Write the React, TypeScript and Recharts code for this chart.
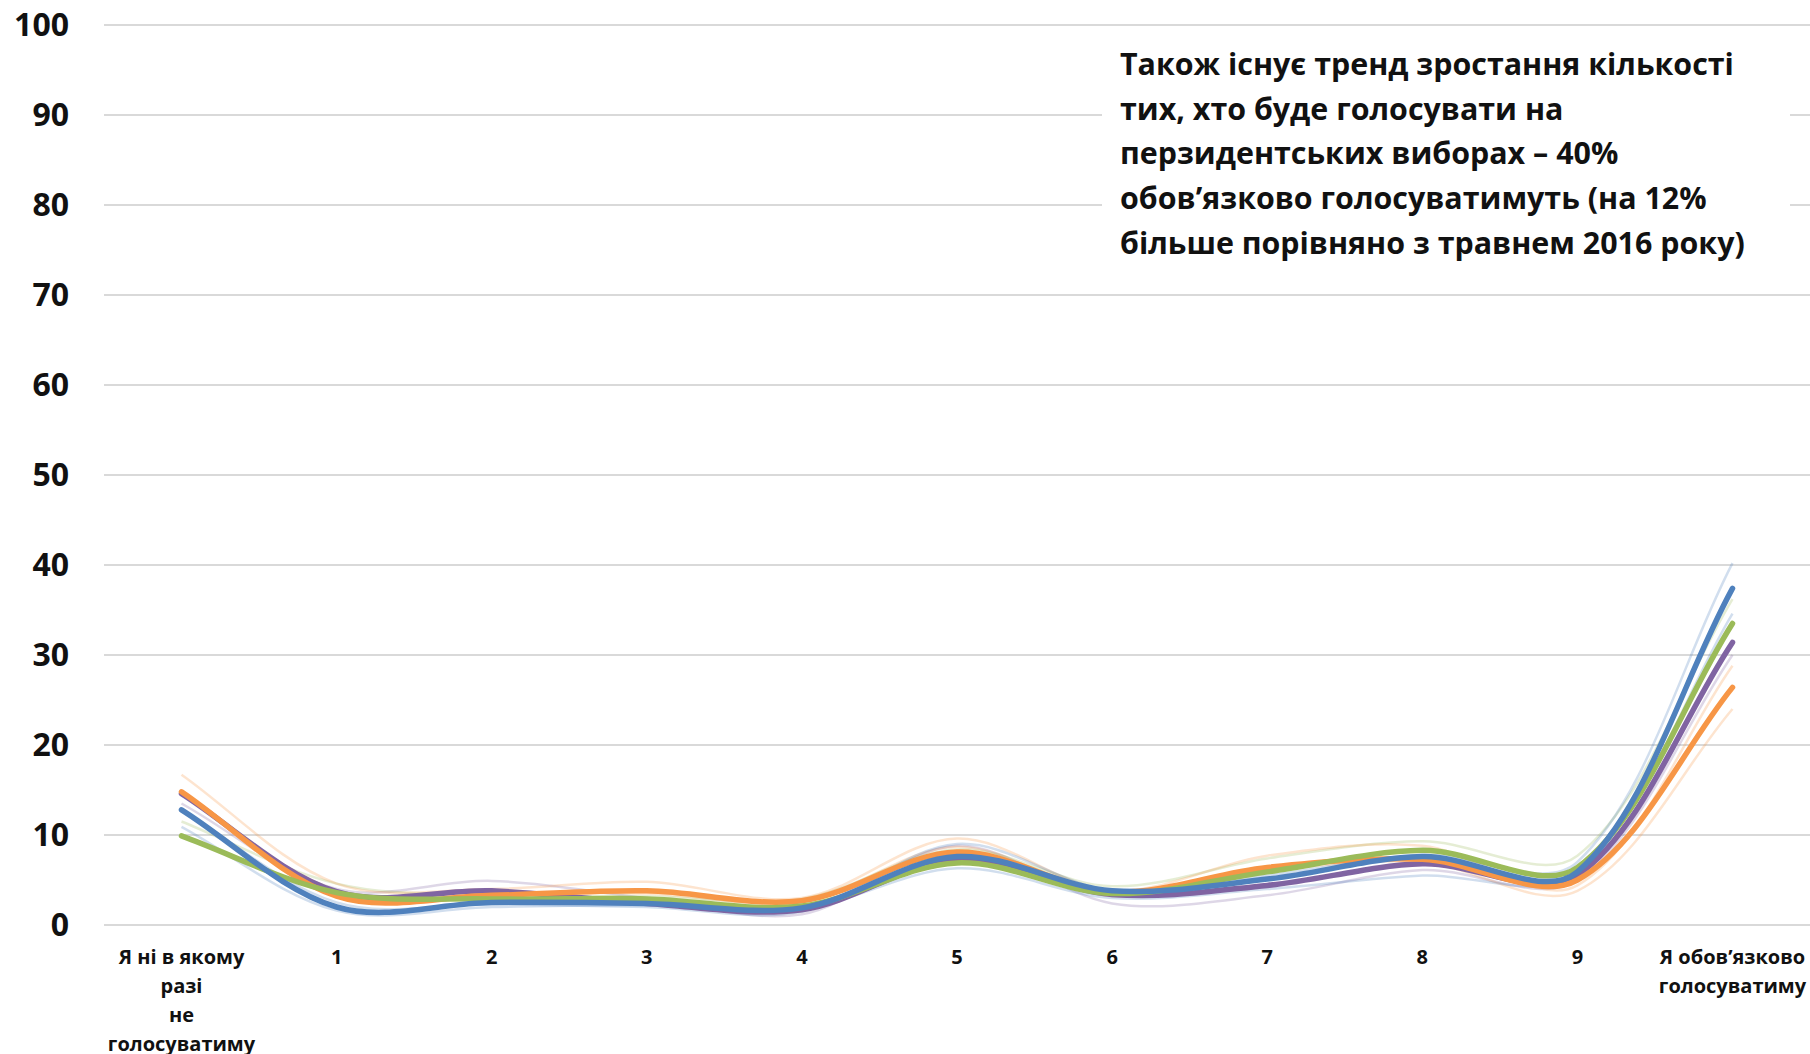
import { CartesianGrid, Line, LineChart, XAxis, YAxis } from "recharts";

// categories of the scale (0 .. 10)
const categories = [
  "Я ні в якому\nразі\nне\nголосуватиму",
  "1",
  "2",
  "3",
  "4",
  "5",
  "6",
  "7",
  "8",
  "9",
  "Я обов’язково\nголосуватиму",
];

const yTicks = [0, 10, 20, 30, 40, 50, 60, 70, 80, 90, 100];

// highlighted waves
const blueWave = [12.8, 2.0, 2.5, 2.4, 1.9, 7.6, 3.8, 5.1, 7.6, 5.9, 37.4];
const orangeWave = [14.8, 3.2, 3.3, 3.8, 2.7, 8.1, 3.7, 6.4, 7.3, 5.0, 26.4];
const greenWave = [9.9, 3.6, 2.9, 2.9, 2.1, 6.9, 3.5, 5.9, 8.3, 6.4, 33.5];
const purpleWave = [14.6, 3.7, 3.8, 2.4, 1.7, 7.2, 3.4, 4.4, 6.8, 5.5, 31.4];

// faded earlier waves
const paleOrangeA = [16.7, 4.6, 4.0, 4.8, 3.0, 9.6, 3.8, 7.7, 8.8, 4.4, 28.8];
const paleOrangeB = [14.8, 3.8, 3.6, 3.5, 2.6, 8.7, 3.2, 6.0, 7.0, 3.8, 24.0];
const paleBlueA = [12.8, 2.5, 2.3, 2.0, 1.5, 9.0, 3.8, 5.5, 7.8, 7.0, 40.2];
const paleBlueB = [10.9, 1.6, 2.0, 2.2, 1.8, 6.3, 3.0, 4.0, 5.5, 5.7, 34.6];
const paleGreen = [11.5, 4.6, 3.3, 3.2, 2.9, 8.4, 4.3, 7.4, 9.3, 7.7, 36.2];
const palePurple = [13.5, 4.0, 4.9, 3.0, 1.2, 8.8, 2.4, 3.3, 6.1, 5.0, 30.0];

const note = [
  "Також існує тренд зростання кількості",
  "тих, хто буде голосувати на",
  "перзидентських виборах – 40%",
  "обов’язково голосуватимуть (на 12%",
  "більше порівняно з травнем 2016 року)",
];

const data = categories.map((category, i) => ({
  category,
  blue: blueWave[i],
  orange: orangeWave[i],
  green: greenWave[i],
  purple: purpleWave[i],
  paleOrangeA: paleOrangeA[i],
  paleOrangeB: paleOrangeB[i],
  paleBlueA: paleBlueA[i],
  paleBlueB: paleBlueB[i],
  paleGreen: paleGreen[i],
  palePurple: palePurple[i],
}));

const FONT = "'Open Sans', 'Noto Sans', sans-serif";

// smoothing like office charts: tangents weighted by segment lengths
function smoothCurve(context: any) {
  let pts: number[][] = [];
  const dist = (a: number[], b: number[]) => Math.hypot(b[0] - a[0], b[1] - a[1]);
  return {
    areaStart() {},
    areaEnd() {},
    lineStart() {
      pts = [];
    },
    point(x: number, y: number) {
      pts.push([+x, +y]);
    },
    lineEnd() {
      if (!pts.length) return;
      context.moveTo(pts[0][0], pts[0][1]);
      for (let i = 0; i < pts.length - 1; i++) {
        const p0 = pts[i - 1] || pts[i];
        const p1 = pts[i];
        const p2 = pts[i + 1];
        const p3 = pts[i + 2] || p2;
        const d01 = dist(p0, p1);
        const d12 = dist(p1, p2);
        const d23 = dist(p2, p3);
        const a = d01 + d12 > 0 ? d12 / (d01 + d12) / 3 : 0;
        const b = d12 + d23 > 0 ? d12 / (d12 + d23) / 3 : 0;
        context.bezierCurveTo(
          p1[0] + (p2[0] - p0[0]) * a,
          p1[1] + (p2[1] - p0[1]) * a,
          p2[0] - (p3[0] - p1[0]) * b,
          p2[1] - (p3[1] - p1[1]) * b,
          p2[0],
          p2[1]
        );
      }
    },
  };
}

const CategoryTick = (props: any) => {
  const { x, y, payload } = props;
  const lines = String(payload.value).split("\n");
  return (
    <text
      x={x}
      y={y}
      textAnchor="middle"
      fontFamily={FONT}
      fontSize={20}
      fontWeight={700}
      fill="#111"
    >
      {lines.map((l, i) => (
        <tspan key={i} x={x} dy={i === 0 ? 38.5 : 29}>
          {l}
        </tspan>
      ))}
    </text>
  );
};

const paleSeries = [
  { key: "palePurple", color: "#8064a2" },
  { key: "paleOrangeB", color: "#f79646" },
  { key: "paleBlueB", color: "#4f81bd" },
  { key: "paleGreen", color: "#9bbb59" },
  { key: "paleOrangeA", color: "#f79646" },
  { key: "paleBlueA", color: "#4f81bd" },
];

const boldSeries = [
  { key: "purple", color: "#8064a2" },
  { key: "orange", color: "#f79646" },
  { key: "green", color: "#9bbb59" },
  { key: "blue", color: "#4f81bd" },
];

export default function App() {
  return (
    <div
      style={{
        position: "absolute",
        left: 0,
        top: 0,
        width: 1810,
        height: 1054,
        background: "#fff",
        overflow: "hidden",
      }}
    >
      <LineChart
        width={1810}
        height={1054}
        data={data}
        margin={{ top: 25, right: 0, bottom: 0, left: 0 }}
      >
        <CartesianGrid vertical={false} stroke="#d9d9d9" strokeWidth={2} />
        <XAxis
          dataKey="category"
          interval={0}
          height={129}
          axisLine={false}
          tickLine={false}
          tickSize={0}
          tickMargin={0}
          padding={{ left: 77.5, right: 77.5 }}
          tick={<CategoryTick />}
        />
        <YAxis
          domain={[0, 100]}
          ticks={yTicks}
          width={104}
          axisLine={false}
          tickLine={false}
          tickSize={0}
          tickMargin={35}
          tick={{ fontFamily: FONT, fontSize: 32, fontWeight: 700, fill: "#111" }}
        />
        {paleSeries.map((s) => (
          <Line
            key={s.key}
            dataKey={s.key}
            type={smoothCurve as any}
            stroke={s.color}
            strokeOpacity={0.26}
            strokeWidth={2.5}
            dot={false}
            activeDot={false}
            isAnimationActive={false}
          />
        ))}
        {boldSeries.map((s) => (
          <Line
            key={s.key}
            dataKey={s.key}
            type={smoothCurve as any}
            stroke={s.color}
            strokeWidth={5.5}
            strokeLinecap="round"
            dot={false}
            activeDot={false}
            isAnimationActive={false}
          />
        ))}
      </LineChart>
      <div
        style={{
          position: "absolute",
          left: 1102,
          top: 34,
          width: 688,
          height: 248,
          background: "#fff",
          boxSizing: "border-box",
          paddingLeft: 18,
          paddingTop: 8,
          fontFamily: FONT,
          fontWeight: 700,
          fontSize: 30.4,
          lineHeight: "44.7px",
          color: "#111",
          whiteSpace: "nowrap",
        }}
      >
        {note.map((line, i) => (
          <div key={i}>{line}</div>
        ))}
      </div>
    </div>
  );
}
